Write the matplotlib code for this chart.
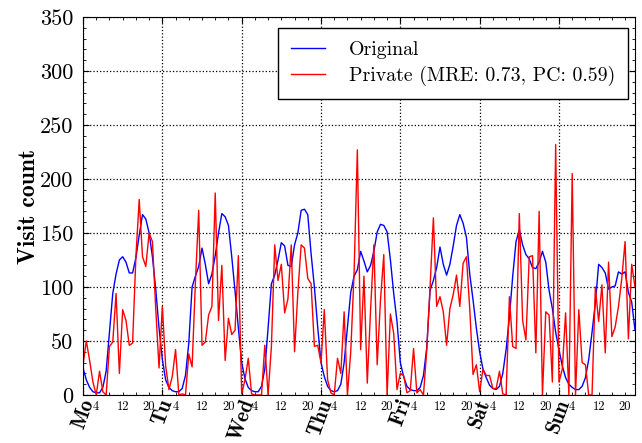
import numpy as np
import matplotlib
matplotlib.use('Agg')
import matplotlib.pyplot as plt
from matplotlib.ticker import FixedLocator, FixedFormatter, MultipleLocator

# hourly visit counts, one row per day (Mo .. Sun)
days = ['Mo', 'Tu', 'Wed', 'Thu', 'Fri', 'Sat', 'Sun']
hour_labels = {4: '4', 12: '12', 20: '20'}

original = [
    25, 14, 7, 3, 2, 2, 7, 22, 58, 94, 112, 125, 128, 123, 113, 113, 127, 148, 167, 163, 150, 128, 98, 62,
    33, 14, 7, 4, 3, 3, 6, 18, 48, 100, 110, 119, 136, 121, 103, 112, 129, 150, 168, 165, 157, 128, 96, 62,
    30, 15, 7, 4, 3, 3, 8, 24, 62, 103, 111, 125, 141, 138, 120, 119, 139, 150, 171, 172, 167, 131, 100, 63,
    30, 17, 8, 4, 3, 4, 10, 30, 62, 95, 110, 116, 133, 124, 114, 120, 133, 151, 158, 157, 151, 125, 94, 68,
    30, 17, 8, 5, 4, 4, 7, 18, 44, 97, 106, 118, 137, 121, 111, 121, 138, 157, 167, 159, 146, 112, 88, 62,
    40, 24, 16, 9, 6, 5, 8, 20, 42, 72, 110, 142, 153, 139, 130, 126, 118, 117, 123, 133, 123, 97, 80, 58,
    42, 27, 16, 10, 7, 5, 5, 8, 16, 33, 58, 85, 121, 118, 113, 98, 100, 101, 114, 112, 114, 95, 86, 60,
]

private = [
    28, 50, 32, 12, 0, 22, 3, 0, 45, 49, 94, 20, 79, 69, 46, 48, 128, 181, 128, 119, 150, 142, 80, 25,
    82, 27, 5, 17, 42, 0, 1, 0, 38, 26, 104, 171, 46, 49, 74, 82, 187, 69, 120, 32, 71, 56, 60, 129,
    1, 14, 34, 1, 0, 0, 0, 46, 0, 45, 139, 106, 121, 76, 89, 139, 40, 95, 139, 136, 108, 103, 45, 46,
    30, 79, 14, 2, 0, 34, 20, 77, 0, 40, 112, 227, 42, 110, 11, 79, 139, 28, 88, 130, 0, 75, 57, 5,
    20, 18, 2, 4, 43, 2, 5, 0, 42, 100, 164, 82, 91, 77, 46, 80, 93, 111, 82, 122, 128, 80, 19, 28,
    3, 24, 18, 18, 6, 6, 22, 1, 0, 91, 45, 43, 168, 69, 51, 128, 129, 39, 170, 0, 77, 74, 12, 232,
    12, 24, 76, 0, 205, 0, 79, 30, 28, 0, 0, 100, 68, 102, 39, 123, 54, 63, 82, 108, 142, 52, 121, 100,
]

private_label = 'Private (MRE: 0.73, PC: 0.59)'

plt.rcParams['font.family'] = 'cmr10'
plt.rcParams['axes.unicode_minus'] = False

fig = plt.figure(figsize=(6.42, 4.43), dpi=100)
ax = fig.add_axes([0.1293, 0.1084, 0.8598, 0.8532])

hours = np.arange(len(original))
ax.plot(hours, original, color='b', lw=1, label='Original')
ax.plot(hours, private, color='r', lw=1, label=private_label)

ax.set_xlim(0, len(original) - 1)
ax.set_ylim(0, 350)

# day boundaries as major ticks, every 4 hours as minor ticks
major = [24 * i for i in range(len(days))]
minor = [h for h in range(4, len(original), 4) if h % 24 != 0]
ax.xaxis.set_major_locator(FixedLocator(major))
ax.xaxis.set_major_formatter(FixedFormatter(days))
ax.xaxis.set_minor_locator(FixedLocator(minor))
ax.xaxis.set_minor_formatter(FixedFormatter([hour_labels.get(h % 24, '') for h in minor]))
ax.yaxis.set_major_locator(MultipleLocator(50))
ax.yaxis.set_minor_locator(MultipleLocator(10))

ax.tick_params(which='both', direction='in', top=True, right=True)
ax.tick_params(which='major', length=4)
ax.tick_params(which='minor', length=2)
ax.tick_params(axis='y', labelsize=16, pad=7)
ax.tick_params(axis='x', which='minor', labelsize=9, pad=4)
ax.tick_params(axis='x', which='major', labelsize=15, pad=1)
for lab in ax.get_xticklabels():
    lab.set_rotation(70)
    lab.set_fontfamily('cmb10')

ax.grid(True, which='major', linestyle=':', color='k', linewidth=0.9)
ax.set_ylabel('Visit count', fontsize=17, fontfamily='cmb10')
ax.yaxis.set_label_coords(-0.078, 0.5)

leg = ax.legend(loc='upper right', bbox_to_anchor=(0.987, 0.97), borderaxespad=0,
                prop={'family': 'cmr10', 'size': 14.3}, fancybox=False, framealpha=1,
                handlelength=1.7, handletextpad=1.2, borderpad=0.65, labelspacing=0.35)
leg.get_frame().set_edgecolor('k')
leg.get_frame().set_linewidth(1)

fig.savefig('out.png', dpi=100)
